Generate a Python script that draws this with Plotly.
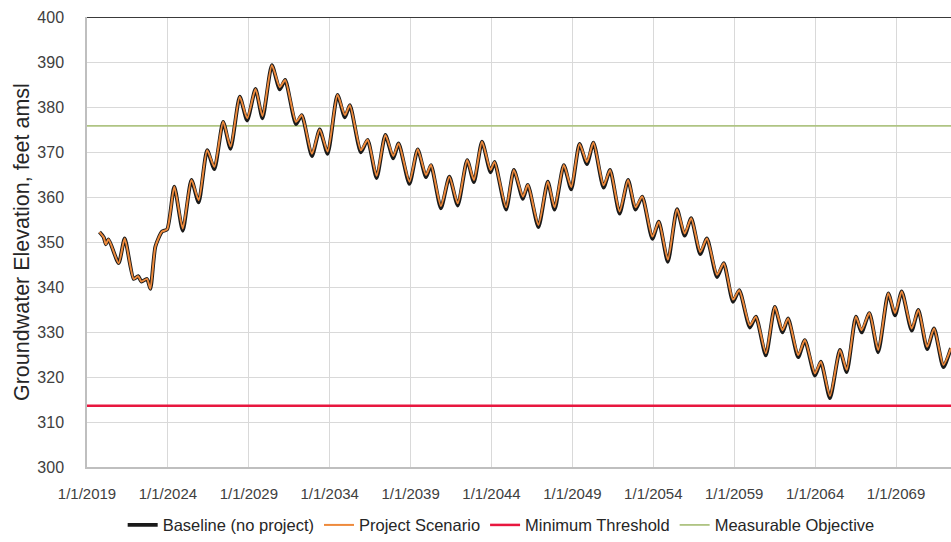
import plotly.graph_objects as go

# ---- data ----
dates = [
    "2019-10-10", "2020-01-15", "2020-03-01", "2020-05-01", "2020-12-15", "2021-05-01", "2021-11-20", "2022-03-01",
    "2022-05-15", "2022-09-15", "2022-12-01", "2023-03-25", "2023-08-20", "2023-12-15", "2024-05-25",
    "2024-12-01", "2025-06-15", "2025-11-25", "2026-06-05", "2026-11-15", "2027-06-01", "2027-11-15", "2028-06-10",
    "2028-11-25", "2029-06-01", "2029-11-05", "2030-06-05", "2030-12-01", "2031-04-01", "2031-12-01",
    "2032-04-10", "2032-11-25", "2033-05-20", "2033-11-15", "2034-06-25", "2034-12-10", "2035-04-01", "2035-12-05",
    "2036-05-05", "2036-11-25", "2037-06-10", "2037-12-05", "2038-04-05", "2038-12-05", "2039-06-10",
    "2039-12-15", "2040-04-05", "2040-11-15", "2041-05-25", "2041-11-30", "2042-07-01", "2042-11-30", "2043-06-01",
    "2043-12-10", "2044-03-10", "2044-11-25", "2045-05-20", "2045-12-10", "2046-04-01", "2046-11-25",
    "2047-06-25", "2047-11-25", "2048-06-20", "2048-12-05", "2049-06-10", "2049-11-25", "2050-04-20", "2050-12-05",
    "2051-05-01", "2051-12-01", "2052-06-10", "2052-11-25", "2053-04-25", "2053-12-10", "2054-05-05",
    "2054-11-25", "2055-06-20", "2055-12-10", "2056-05-05", "2056-11-25", "2057-04-25", "2057-12-10", "2058-05-10",
    "2058-12-05", "2059-04-25", "2059-12-20", "2060-05-05", "2060-12-15", "2061-07-05", "2061-12-25",
    "2062-05-01", "2062-12-15", "2063-05-15", "2063-12-28", "2064-05-10", "2064-12-01", "2065-07-15", "2065-12-15",
    "2066-07-10", "2066-11-15", "2067-05-10", "2067-11-25", "2068-07-10", "2068-12-10", "2069-05-10",
    "2069-12-20", "2070-05-20", "2070-12-05", "2071-05-10", "2071-12-05", "2072-05-25",
]

project = [
    352.2, 351.0, 349.5, 350.6, 345.3, 350.8, 341.8, 342.4, 341.2, 341.8, 339.6, 349.0, 352.3, 352.8, 362.3,
    353.0, 363.8, 359.3, 370.4, 366.7, 376.7, 371.2, 382.3, 377.5, 384.0, 378.0, 389.3, 384.4, 386.0, 376.7,
    378.2, 369.6, 375.0, 370.1, 382.7, 378.2, 380.4, 370.4, 372.7, 364.7, 373.8, 369.1, 371.9, 363.4, 370.6,
    364.9, 367.1, 358.0, 364.5, 358.6, 368.2, 363.8, 372.3, 366.0, 367.8, 357.7, 366.0, 360.1, 362.7, 353.8,
    363.4, 357.7, 367.1, 362.2, 371.8, 367.8, 372.1, 362.6, 366.0, 356.8, 363.8, 357.7, 360.1, 351.2, 354.5,
    346.1, 357.3, 351.9, 355.3, 347.8, 350.8, 342.7, 345.3, 337.2, 339.3, 331.5, 333.4, 325.3, 335.6, 330.4,
    333.0, 324.9, 328.2, 320.8, 323.4, 315.8, 326.0, 321.6, 333.4, 330.4, 334.2, 326.0, 338.6, 334.2, 339.0,
    330.8, 334.9, 326.7, 330.8, 322.7, 326.4,
]

baseline = [
    352.2, 351.0, 349.5, 350.6, 345.3, 350.8, 341.8, 342.4, 341.2, 341.8, 339.6, 349.0, 352.3, 352.8, 362.3,
    352.5, 363.8, 358.8, 370.4, 366.2, 376.7, 370.7, 382.3, 377.0, 384.0, 377.5, 389.3, 383.9, 386.0, 376.2,
    378.2, 369.1, 375.0, 369.6, 382.7, 377.7, 380.4, 369.9, 372.7, 364.2, 373.8, 368.6, 371.9, 362.9, 370.6,
    364.4, 367.1, 357.5, 364.5, 358.1, 368.2, 363.3, 372.3, 365.5, 367.8, 357.2, 366.0, 359.6, 362.7, 353.3,
    363.4, 357.2, 367.1, 361.7, 371.8, 367.3, 372.1, 362.1, 366.0, 356.3, 363.8, 357.2, 360.1, 350.7, 354.5,
    345.6, 357.3, 351.4, 355.3, 347.3, 350.8, 342.2, 345.3, 336.7, 339.3, 331.0, 333.4, 324.8, 335.6, 329.9,
    333.0, 324.4, 328.2, 320.3, 323.4, 315.3, 326.0, 321.1, 333.4, 329.9, 334.2, 325.5, 338.6, 333.7, 339.0,
    330.3, 334.9, 326.2, 330.8, 322.2, 326.4,
]

minimum_threshold = 313.6
measurable_objective = 375.8
threshold_span = ["2019-01-01", "2073-12-31"]

tick_dates = ["2019-01-01", "2024-01-01", "2029-01-01", "2034-01-01", "2039-01-01", "2044-01-01",
              "2049-01-01", "2054-01-01", "2059-01-01", "2064-01-01", "2069-01-01"]
tick_labels = ["1/1/2019", "1/1/2024", "1/1/2029", "1/1/2034", "1/1/2039", "1/1/2044",
               "1/1/2049", "1/1/2054", "1/1/2059", "1/1/2064", "1/1/2069"]
y_ticks = [300, 310, 320, 330, 340, 350, 360, 370, 380, 390, 400]

FONT = "Liberation Sans, Arial, sans-serif"

fig = go.Figure()

fig.add_trace(go.Scatter(
    x=threshold_span, y=[minimum_threshold, minimum_threshold], mode="lines",
    name="Minimum Threshold", line=dict(color="#E8173F", width=2.5), legendrank=3,
))
fig.add_trace(go.Scatter(
    x=threshold_span, y=[measurable_objective, measurable_objective], mode="lines",
    name="Measurable Objective", line=dict(color="#AFC483", width=1.8), legendrank=4,
))
fig.add_trace(go.Scatter(
    x=dates, y=baseline, mode="lines", name="Baseline (no project)",
    line=dict(color="#1a1a1a", width=3.8, shape="spline", smoothing=0.6), legendrank=1,
))
fig.add_trace(go.Scatter(
    x=dates, y=project, mode="lines", name="Project Scenario",
    line=dict(color="#EE8A3C", width=2.0, shape="spline", smoothing=0.6), legendrank=2,
))

fig.add_shape(type="line", xref="paper", x0=0, x1=1, yref="y", y0=400, y1=400,
              line=dict(color="#3a3a3a", width=2))

fig.add_annotation(
    text="Groundwater Elevation, feet amsl", textangle=-90,
    xref="paper", x=-0.0752, xanchor="center", yref="paper", y=0.5, yanchor="middle",
    showarrow=False, font=dict(family=FONT, size=21.5, color="#262626"),
)

fig.update_layout(
    width=951, height=542,
    margin=dict(l=87, r=0, t=17, b=75),
    paper_bgcolor="white", plot_bgcolor="white",
    font=dict(family=FONT, color="#404040"),
    showlegend=True,
    legend=dict(
        orientation="h", xref="container", yref="container",
        x=0.527, xanchor="center", y=0.031, yanchor="middle",
        font=dict(family=FONT, size=16.5, color="#262626"),
        itemwidth=30, tracegroupgap=0,
    ),
    xaxis=dict(
        type="date", range=["2019-01-01", "2072-05-26"],
        tickmode="array", tickvals=tick_dates, ticktext=tick_labels,
        showgrid=True, gridcolor="#d9d9d9", gridwidth=1,
        showline=True, linecolor="#bfbfbf", linewidth=1.5,
        zeroline=False, ticks="", ticklabelstandoff=12,
        tickfont=dict(family=FONT, size=15, color="#404040"),
    ),
    yaxis=dict(
        range=[300, 400], tickmode="array", tickvals=y_ticks,
        showgrid=True, gridcolor="#d9d9d9", gridwidth=1,
        showline=True, linecolor="#bfbfbf", linewidth=1.5,
        zeroline=False, ticks="", ticklabelstandoff=18,
        tickfont=dict(family=FONT, size=16, color="#404040"),
    ),
)

fig.write_html("out.html")
